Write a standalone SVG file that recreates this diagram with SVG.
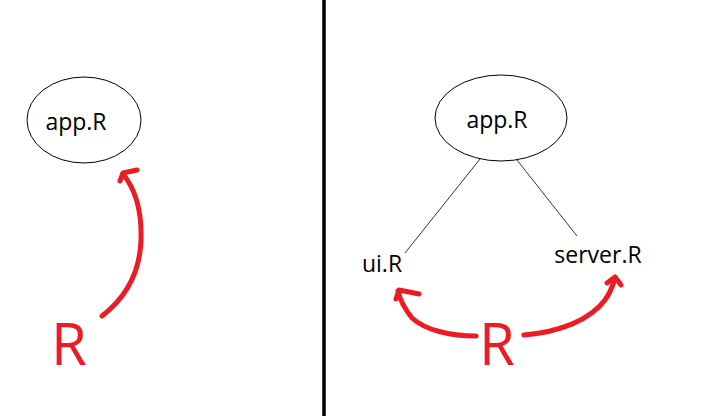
<svg xmlns="http://www.w3.org/2000/svg" width="720" height="416" viewBox="0 0 720 416">
<style>
.node{fill:none;stroke:#000;stroke-width:1}
.lbl{font-family:"Open Sans","Liberation Sans",sans-serif;font-size:23px;fill:#000;text-anchor:middle}
.big{font-family:"Open Sans","Liberation Sans",sans-serif;font-size:58px;fill:#ed1c24;text-anchor:middle}
.edge{stroke:#000;stroke-width:0.8;fill:none}
.red{stroke:#ed1c24;stroke-width:5;fill:none;stroke-linecap:round;stroke-linejoin:round}
</style>
<rect width="720" height="416" fill="#fff"/>
<line x1="324" y1="0" x2="324" y2="416" stroke="#000" stroke-width="3.5"/>
<g id="left-app">
<ellipse class="node" cx="84" cy="120" rx="57" ry="43"/>
<text class="lbl" x="76" y="130">app.R</text>
</g>
<g id="left-R">
<text class="big" x="69" y="365">R</text>
</g>
<g id="right-app">
<ellipse class="node" cx="501" cy="118" rx="66" ry="43"/>
<text class="lbl" x="497" y="128">app.R</text>
</g>
<g id="ui">
<text class="lbl" x="382" y="272">ui.R</text>
</g>
<g id="server">
<text class="lbl" x="598" y="263">server.R</text>
</g>
<g id="right-R">
<text class="big" x="497" y="365">R</text>
</g>
<g id="connectors">
<line class="edge" x1="480" y1="159" x2="405" y2="253"/>
<line class="edge" x1="517" y1="160" x2="577" y2="236"/>
<path class="red" d="M102,316 C128,296 140,270 141,240 C142,210 136,190 123,174"/>
<path class="red" d="M120,181 L123,173 L137,170"/>
<path class="red" d="M476,336 C450,336 425,330 412,318 C404,308 400,300 398,291"/>
<path class="red" d="M396,299 L399,290 L419,294"/>
<path class="red" d="M524,335 C560,332 590,320 605,300 C611,292 613,285 615,278"/>
<path class="red" d="M607,283 L615,277 L621,285"/>
</g>
</svg>
